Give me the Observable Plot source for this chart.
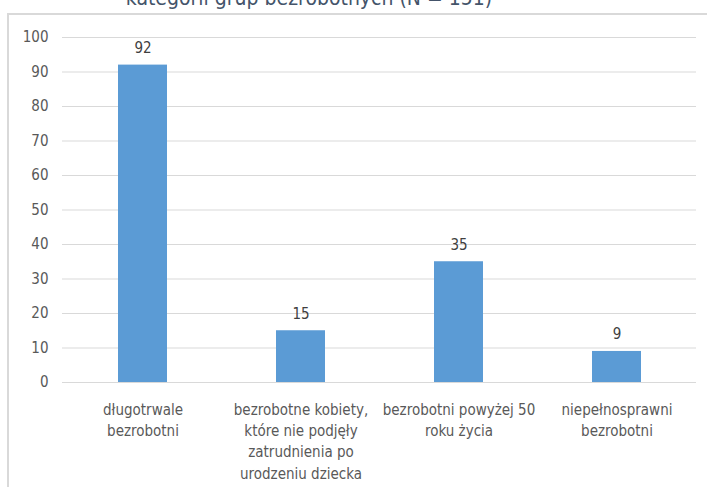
<!DOCTYPE html>
<html lang="pl">
<head>
<meta charset="utf-8">
<script src="https://cdn.jsdelivr.net/npm/d3@7"></script>
<script src="https://cdn.jsdelivr.net/npm/@observablehq/plot@0.6"></script>
<style>
  html, body { margin: 0; padding: 0; background: #fff; overflow: hidden; }
  #wrap { position: relative; width: 707px; height: 487px; overflow: hidden; }
  #title {
    position: absolute; left: 0; width: 618px; top: -12px;
    text-align: center; font: 21px "DejaVu Sans Condensed", "DejaVu Sans", sans-serif;
    color: #44546A; line-height: 1; white-space: nowrap;
  }
  #box {
    position: absolute; left: 7px; top: 13px; width: 720px; height: 500px;
    border-left: 2px solid #d9d9d9; border-top: 2px solid #d9d9d9;
  }
  #chart { position: absolute; left: 0; top: 0; }
</style>
</head>
<body>
<div id="wrap">
  <div id="box"></div>
  <div id="title">kategorii grup bezrobotnych (N = 151)</div>
  <div id="chart"></div>
</div>
<script>
// Liczba bezrobotnych w poszczególnych kategoriach
const categories = [
  "długotrwale bezrobotni",
  "bezrobotne kobiety, które nie podjęły zatrudnienia po urodzeniu dziecka",
  "bezrobotni powyżej 50 roku życia",
  "niepełnosprawni bezrobotni"
];
const values = [92, 15, 35, 9];
const tickLabels = [
  "długotrwale\nbezrobotni",
  "bezrobotne kobiety,\nktóre nie podjęły\nzatrudnienia po\nurodzeniu dziecka",
  "bezrobotni powyżej 50\nroku życia",
  "niepełnosprawni\nbezrobotni"
];
const yTicks = [0, 10, 20, 30, 40, 50, 60, 70, 80, 90, 100];

const data = categories.map((c, i) => ({category: c, value: values[i]}));
const labelOf = new Map(categories.map((c, i) => [c, tickLabels[i]]));

const font = "'DejaVu Sans Condensed', 'DejaVu Sans', sans-serif";

const chart = Plot.plot({
  width: 707,
  height: 487,
  marginLeft: 62,
  marginRight: 11,
  marginTop: 37,
  marginBottom: 105,
  style: {fontFamily: font, fontSize: "15px", color: "#595959", background: "transparent"},
  x: {domain: categories, paddingInner: 0.69, paddingOuter: 0.345},
  y: {domain: [0, 100]},
  marks: [
    Plot.gridY(yTicks, {stroke: "#d9d9d9", strokeOpacity: 1, strokeWidth: 1}),
    Plot.axisY(yTicks, {tickSize: 0, tickPadding: 14, label: null, fontSize: 15, fill: "#595959"}),
    Plot.barY(data, {x: "category", y: "value", fill: "#5B9BD5"}),
    Plot.text(data, {x: "category", y: "value", text: d => String(d.value),
      lineAnchor: "bottom", dy: -12, fontSize: 15, fill: "#404040"}),
    Plot.axisX({tickSize: 0, tickPadding: 17, label: null, fontSize: 15, fill: "#595959",
      lineHeight: 1.42, tickFormat: d => labelOf.get(d)})
  ]
});
document.getElementById("chart").append(chart);
</script>
</body>
</html>
